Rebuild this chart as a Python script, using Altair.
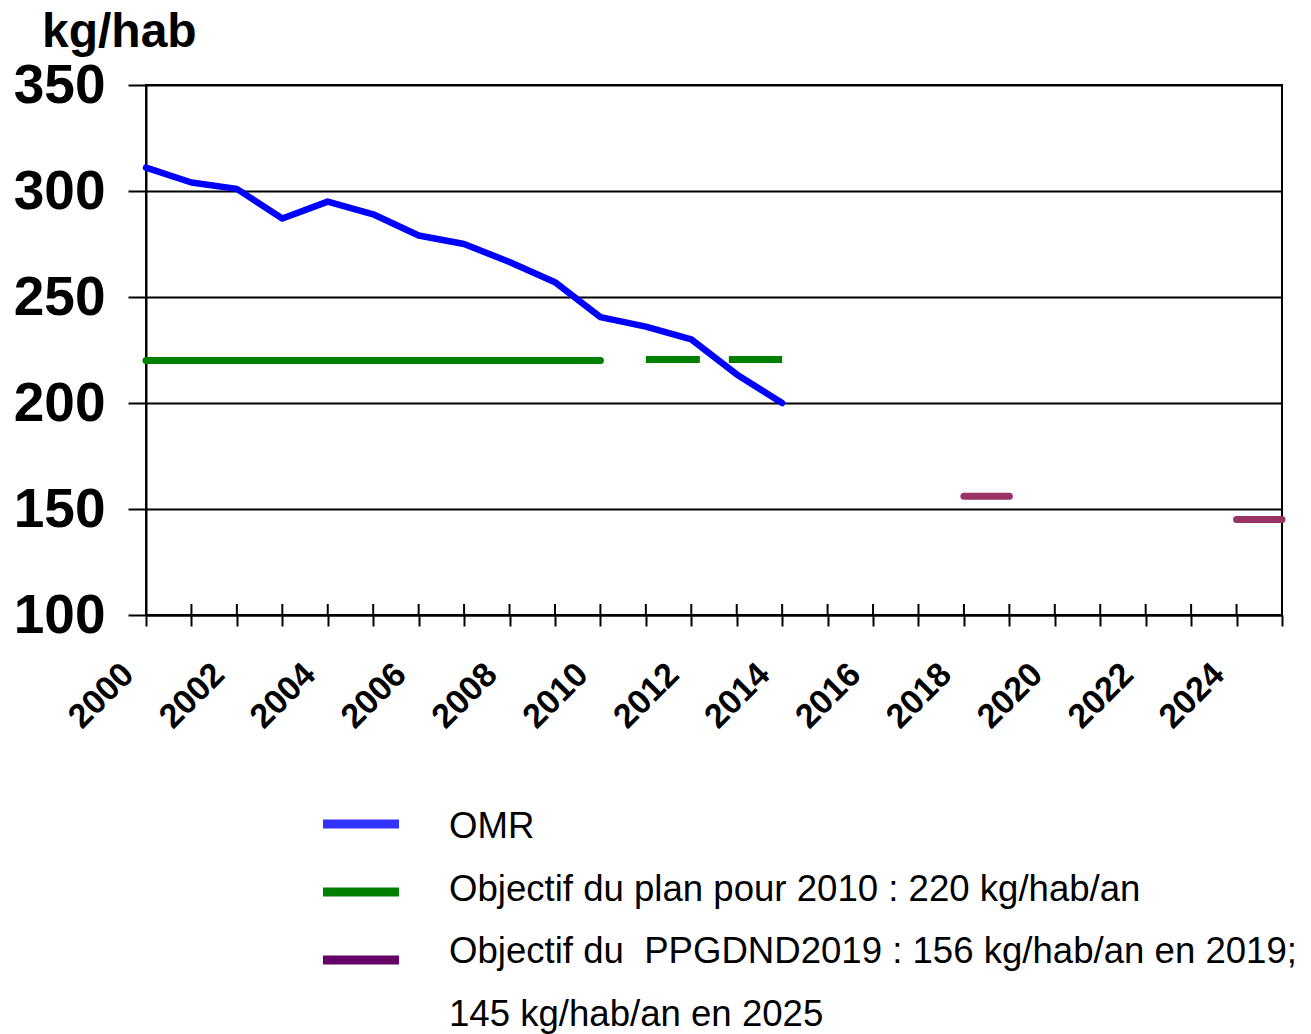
import altair as alt
import pandas as pd

# ---- data ----
omr_years = list(range(2000, 2015))
omr_values = [311, 304, 301, 287, 295, 289, 279, 275, 266.5, 257, 240.5, 236, 230, 213.5, 200]

green_solid_years = list(range(2000, 2011))
green_solid_values = [220] * len(green_solid_years)
green_dash_years = [2011, 2012, 2013, 2014]
green_dash_values = [220.5] * len(green_dash_years)

purple_start = [2018, 2024]
purple_end = [2019, 2025]
purple_values = [156, 145]

tick_years = list(range(2000, 2026))
y_ticks = [100, 150, 200, 250, 300, 350]

unit_title = ["kg/hab"]

legend_labels = [
    "OMR",
    "Objectif du plan pour 2010 : 220 kg/hab/an",
    "Objectif du\u00a0 PPGDND2019 : 156 kg/hab/an en 2019;",
    "145 kg/hab/an en 2025",
]
legend_colors = ["#3333ff", "#008000", "#660066", ""]

FONT = "Liberation Sans"
W, H = 1136, 530

omr_df = pd.DataFrame({"year": omr_years, "value": omr_values})
gs_df = pd.DataFrame({"year": green_solid_years, "value": green_solid_values})
gd_df = pd.DataFrame({"year": green_dash_years, "value": green_dash_values})
pu_df = pd.DataFrame({"start": purple_start, "end": purple_end, "value": purple_values})
tk_df = pd.DataFrame({"year": tick_years})
title_df = pd.DataFrame({"t": unit_title})

xscale = alt.Scale(domain=[2000, 2025], nice=False, zero=False)
yscale = alt.Scale(domain=[100, 350], nice=False, zero=False)

xaxis = alt.Axis(
    values=tick_years,
    format="d",
    labelExpr="datum.value % 2 == 0 ? datum.label : ''",
    labelAngle=315,
    labelAlign="right",
    labelBaseline="middle",
    labelFont=FONT,
    labelFontSize=34,
    labelFontWeight="bold",
    labelColor="black",
    labelPadding=43,
    labelOffset=-18,
    labelFlush=False,
    labelOverlap=False,
    tickSize=11,
    tickWidth=2,
    tickColor="black",
    domainColor="black",
    domainWidth=2,
    grid=False,
    title=None,
)
yaxis = alt.Axis(
    values=y_ticks,
    labelFont=FONT,
    labelFontSize=55,
    labelFontWeight="bold",
    labelColor="black",
    labelPadding=23,
    tickSize=18,
    tickWidth=2,
    tickColor="black",
    domainColor="black",
    domainWidth=2,
    grid=True,
    gridColor="black",
    gridWidth=2,
    title=None,
)

green_solid = alt.Chart(gs_df).mark_line(
    color="#008000", strokeWidth=7, strokeCap="round"
).encode(
    x=alt.X("year:Q", scale=xscale, axis=xaxis),
    y=alt.Y("value:Q", scale=yscale, axis=yaxis),
)

green_dash = alt.Chart(gd_df).mark_line(
    color="#008000", strokeWidth=7, strokeCap="butt", strokeDash=[54, 29]
).encode(x=alt.X("year:Q", scale=xscale), y=alt.Y("value:Q", scale=yscale))

omr_line = alt.Chart(omr_df).mark_line(
    color="#0000ff", strokeWidth=6.5, strokeCap="round", strokeJoin="round"
).encode(x=alt.X("year:Q", scale=xscale), y=alt.Y("value:Q", scale=yscale))

purple = alt.Chart(pu_df).mark_rule(
    color="#993366", strokeWidth=7, strokeCap="round", clip=False
).encode(
    x=alt.X("start:Q", scale=xscale),
    x2="end:Q",
    y=alt.Y("value:Q", scale=yscale),
)

inner_ticks = alt.Chart(tk_df).mark_rule(color="black", strokeWidth=2).encode(
    x=alt.X("year:Q", scale=xscale),
    y=alt.value(H - 11),
    y2=alt.value(H),
)

unit_label = alt.Chart(title_df).mark_text(
    align="left",
    baseline="alphabetic",
    font=FONT,
    fontSize=48,
    fontWeight="bold",
    color="black",
).encode(x=alt.value(-104), y=alt.value(-38), text="t:N")

plot_layers = alt.layer(green_solid, green_dash, omr_line, purple, inner_ticks, unit_label)

# ---- legend drawn below the plot ----
leg_df = pd.DataFrame(
    {"row": list(range(len(legend_labels))), "label": legend_labels, "color": legend_colors}
)
leg_rules = alt.Chart(leg_df).transform_filter("datum.color != ''").mark_rule(
    strokeWidth=9
).encode(
    x=alt.value(177),
    x2=alt.value(253),
    y=alt.Y(
        "row:O",
        scale=alt.Scale(type="point", range=[739, 875], padding=0),
        axis=None,
    ),
    color=alt.Color("color:N", scale=None),
)
leg_text = alt.Chart(leg_df).mark_text(
    align="left", baseline="middle", font=FONT, fontSize=36.6, color="black"
).encode(
    x=alt.value(303),
    y=alt.Y(
        "row:O",
        scale=alt.Scale(type="point", range=[742, 930], padding=0),
        axis=None,
    ),
    text="label:N",
)

legend_layers = alt.layer(leg_rules, leg_text).resolve_scale(y="independent")

chart = (
    alt.layer(plot_layers, legend_layers)
    .resolve_scale(y="independent")
    .properties(
        width=W,
        height=H,
        autosize=alt.AutoSizeParams(type="none"),
        padding={"left": 138, "top": 77, "right": 20, "bottom": 419},
    )
    .configure(
        font=FONT,
        view=alt.ViewConfig(stroke="black", strokeWidth=2),
    )
)

chart.save("out.html", embed_options={"renderer": "svg", "actions": False})
